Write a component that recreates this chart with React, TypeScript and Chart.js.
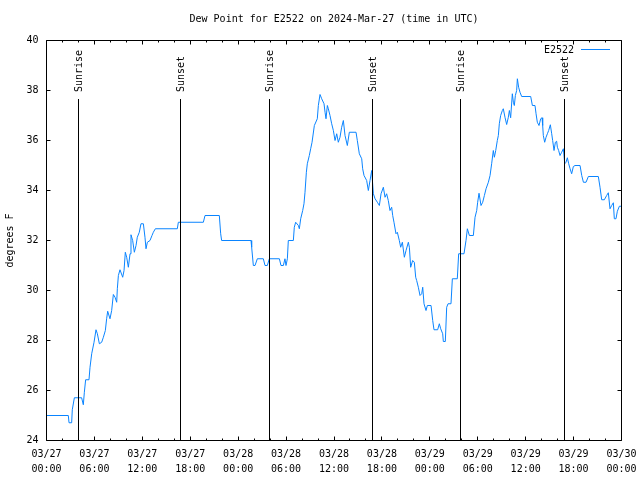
import React, { useEffect, useRef } from "react";
import { Chart, registerables } from "chart.js";

Chart.register(...registerables);

// ---- data (hours since 2024-03-27 00:00 UTC) ----
const hours: number[] = [
  0, 2.73, 2.82, 3.15, 3.23, 3.49, 4.4, 4.61, 4.74, 4.9, 5.32, 5.45, 5.66, 5.95, 6.2, 6.37, 6.62, 6.91, 7.12, 7.37,
  7.53, 7.66, 7.95, 8.16, 8.37, 8.58, 8.79, 8.87, 9.0, 9.2, 9.54, 9.71, 9.87, 10.04, 10.25, 10.46, 10.58, 10.79, 11.0, 11.21,
  11.37, 11.62, 11.83, 12.13, 12.33, 12.46, 12.63, 12.96, 13.21, 13.38, 13.63, 16.38, 16.51, 19.64, 19.85, 21.64, 21.81, 21.93, 25.61, 25.69,
  25.9, 26.11, 26.4, 27.15, 27.36, 27.65, 27.9, 29.16, 29.36, 29.66, 29.86, 29.99, 30.16, 30.28, 30.91, 31.03, 31.2, 31.54, 31.66, 31.83,
  32.08, 32.24, 32.37, 32.54, 32.66, 32.91, 33.08, 33.25, 33.54, 33.91, 34.04, 34.25, 34.46, 34.75, 34.88, 35.0, 35.17, 35.29, 35.5, 35.71,
  35.92, 36.13, 36.34, 36.54, 36.75, 36.96, 37.17, 37.38, 37.67, 37.92, 38.76, 38.92, 39.17, 39.47, 39.59, 39.76, 40.09, 40.3, 40.51, 40.72,
  40.93, 41.14, 41.43, 41.68, 41.89, 42.18, 42.39, 42.59, 42.8, 43.01, 43.22, 43.35, 43.51, 43.76, 43.93, 44.18, 44.35, 44.56, 44.81, 45.02,
  45.31, 45.44, 45.6, 45.85, 46.06, 46.23, 46.35, 46.56, 46.77, 46.98, 47.11, 47.27, 47.52, 47.69, 48.15, 48.36, 48.52, 48.98, 49.19, 49.36,
  49.61, 49.69, 49.94, 50.11, 50.28, 50.65, 50.82, 51.44, 51.61, 52.28, 52.53, 52.7, 52.95, 53.45, 53.66, 53.87, 53.99, 54.16, 54.41, 54.62,
  54.83, 55.04, 55.33, 55.54, 55.74, 55.95, 56.08, 56.25, 56.45, 56.58, 56.7, 56.87, 57.08, 57.2, 57.41, 57.62, 57.83, 57.96, 58.12, 58.33,
  58.46, 58.58, 58.71, 58.87, 58.96, 59.12, 59.29, 59.5, 60.63, 60.84, 61.17, 61.3, 61.46, 61.67, 61.88, 62.05, 62.13, 62.21, 62.38, 62.55,
  62.72, 62.88, 63.09, 63.26, 63.38, 63.55, 63.72, 63.88, 63.97, 64.13, 64.3, 64.51, 64.72, 64.89, 65.05, 65.22, 65.39, 65.56, 65.76, 65.97,
  66.18, 66.81, 67.02, 67.23, 67.56, 67.85, 69.1, 69.31, 69.52, 69.85, 70.14, 70.35, 70.56, 70.77, 70.98, 71.1, 71.31, 71.48, 71.73, 72.0,
];
const dewF: number[] = [
  25.0, 25.0, 24.71, 24.71, 25.23, 25.71, 25.71, 25.43, 25.93, 26.43, 26.43, 26.93, 27.47, 27.93, 28.43, 28.27, 27.87, 27.93, 28.13, 28.4,
  28.87, 29.17, 28.87, 29.2, 29.84, 29.73, 29.53, 30.07, 30.6, 30.83, 30.53, 30.8, 31.53, 31.33, 30.93, 31.47, 32.23, 32.0, 31.53, 31.8,
  32.13, 32.33, 32.67, 32.67, 32.13, 31.67, 31.93, 32.0, 32.2, 32.33, 32.47, 32.47, 32.73, 32.73, 33.0, 33.0, 32.27, 32.0, 32.0, 31.73,
  31.0, 31.0, 31.27, 31.27, 31.0, 31.0, 31.27, 31.27, 31.0, 31.0, 31.27, 31.0, 31.27, 32.0, 32.0, 32.53, 32.73, 32.6, 32.47, 32.87,
  33.2, 33.47, 33.93, 34.73, 35.07, 35.4, 35.67, 35.93, 36.6, 36.87, 37.4, 37.84, 37.67, 37.47, 37.13, 36.87, 37.4, 37.27, 37.0, 36.67,
  36.4, 36.0, 36.27, 35.93, 36.13, 36.53, 36.8, 36.2, 35.8, 36.33, 36.33, 36.0, 35.47, 35.27, 34.87, 34.6, 34.4, 34.0, 34.4, 34.8,
  33.87, 33.67, 33.53, 33.4, 33.87, 34.13, 33.73, 33.87, 33.6, 33.2, 33.33, 33.0, 32.73, 32.27, 32.33, 32.0, 31.73, 31.93, 31.33, 31.6,
  31.93, 31.73, 30.93, 31.2, 31.13, 30.53, 30.4, 30.13, 29.8, 29.87, 30.13, 29.47, 29.2, 29.4, 29.4, 28.8, 28.43, 28.43, 28.67, 28.47,
  28.27, 27.96, 27.96, 29.33, 29.47, 29.47, 30.47, 30.47, 31.47, 31.47, 32.0, 32.47, 32.2, 32.2, 32.93, 33.2, 33.53, 33.89, 33.4, 33.53,
  33.8, 34.07, 34.33, 34.6, 35.07, 35.6, 35.33, 35.6, 36.0, 36.2, 36.67, 37.0, 37.2, 37.27, 36.93, 36.64, 36.93, 37.2, 36.91, 37.87,
  37.53, 37.4, 37.8, 38.0, 38.47, 38.13, 37.93, 37.76, 37.76, 37.4, 37.4, 37.07, 36.73, 36.6, 36.87, 36.91, 36.6, 36.2, 35.93, 36.13,
  36.27, 36.4, 36.63, 36.27, 36.0, 35.6, 35.93, 35.97, 35.73, 35.6, 35.4, 35.53, 35.67, 35.07, 35.13, 35.31, 35.07, 34.87, 34.67, 34.96,
  35.0, 35.0, 34.6, 34.33, 34.33, 34.56, 34.56, 34.13, 33.63, 33.63, 33.8, 33.91, 33.27, 33.4, 33.51, 32.87, 32.87, 33.17, 33.37, 33.37,
];

const sunriseHours: number[] = [4.03, 27.93, 51.82];
const sunsetHours: number[] = [16.77, 40.8, 64.84];

const xTickHours: number[] = [0, 6, 12, 18, 24, 30, 36, 42, 48, 54, 60, 66, 72];
const xTickDates: string[] = ["03/27", "03/27", "03/27", "03/27", "03/28", "03/28", "03/28", "03/28", "03/29", "03/29", "03/29", "03/29", "03/30"];
const xTickTimes: string[] = ["00:00", "06:00", "12:00", "18:00", "00:00", "06:00", "12:00", "18:00", "00:00", "06:00", "12:00", "18:00", "00:00"];

const TITLE = "Dew Point for E2522 on 2024-Mar-27 (time in UTC)";
const SERIES = "E2522";
const Y_TITLE = "degrees F";

const FONT_FAMILY = '"DejaVu Sans Mono", "Liberation Mono", monospace';
const LINE_COLOR = "#0a84ff";

const framePlugin = {
  id: "gnuplotFrame",
  afterDatasetsDraw(chart: any) {
    const { ctx, chartArea } = chart;
    const xs = chart.scales.x;
    const ys = chart.scales.y;
    const { left, right, top, bottom } = chartArea;
    ctx.save();
    ctx.strokeStyle = "#000";
    ctx.lineWidth = 1;
    ctx.beginPath();
    ctx.rect(left, top, right - left, bottom - top);
    ctx.stroke();

    // x ticks (major every 6h, minor every 2h), inward, mirrored on top
    ctx.beginPath();
    for (let h = 0; h <= 72; h += 2) {
      const px = Math.floor(xs.getPixelForValue(h)) + 0.5;
      const len = h % 6 === 0 ? 4 : 2;
      ctx.moveTo(px, bottom);
      ctx.lineTo(px, bottom - len);
      ctx.moveTo(px, top);
      ctx.lineTo(px, top + len);
    }
    // y ticks every 2
    for (let v = 24; v <= 40; v += 2) {
      const py = Math.floor(ys.getPixelForValue(v)) + 0.5;
      ctx.moveTo(left, py);
      ctx.lineTo(left + 4, py);
      ctx.moveTo(right, py);
      ctx.lineTo(right - 4, py);
    }
    ctx.stroke();

    // sunrise / sunset markers
    const lineTop = 99;
    ctx.fillStyle = "#000";
    ctx.font = `10px ${FONT_FAMILY}`;
    const events: [number, string][] = [
      ...sunriseHours.map((h) => [h, "Sunrise"] as [number, string]),
      ...sunsetHours.map((h) => [h, "Sunset"] as [number, string]),
    ];
    for (const [h, label] of events) {
      const px = Math.floor(xs.getPixelForValue(h)) + 0.5;
      ctx.beginPath();
      ctx.moveTo(px, lineTop);
      ctx.lineTo(px, bottom);
      ctx.stroke();
      ctx.save();
      ctx.translate(px + 1, 92);
      ctx.rotate(-Math.PI / 2);
      ctx.textAlign = "left";
      ctx.textBaseline = "middle";
      ctx.fillText(label, 0, 0);
      ctx.restore();
    }

    // legend
    ctx.textAlign = "right";
    ctx.textBaseline = "middle";
    ctx.fillText(SERIES, 574, 50);
    ctx.strokeStyle = LINE_COLOR;
    ctx.beginPath();
    ctx.moveTo(581, 49.5);
    ctx.lineTo(610, 49.5);
    ctx.stroke();
    ctx.restore();
  },
};

export default function App() {
  const canvasRef = useRef<HTMLCanvasElement | null>(null);

  useEffect(() => {
    if (!canvasRef.current) return;
    const font = { family: FONT_FAMILY, size: 10 };
    const chart = new Chart(canvasRef.current, {
      type: "line",
      data: {
        datasets: [
          {
            label: SERIES,
            data: hours.map((h, i) => ({ x: h, y: dewF[i] })),
            borderColor: LINE_COLOR,
            borderWidth: 1,
            pointRadius: 0,
            tension: 0,
            fill: false,
          },
        ],
      },
      options: {
        animation: false,
        responsive: false,
        devicePixelRatio: 1,
        layout: { padding: { left: 0, right: 18.5, top: 0, bottom: 0 } },
        plugins: {
          legend: { display: false },
          tooltip: { enabled: false },
          title: {
            display: true,
            text: TITLE,
            fullSize: false,
            color: "#000",
            font: { ...font, weight: "normal", lineHeight: 1.2 },
            padding: { top: 13, bottom: 15.5 },
          },
        },
        scales: {
          x: {
            type: "linear",
            min: 0,
            max: 72,
            afterBuildTicks: (scale: any) => {
              scale.ticks = xTickHours.map((v) => ({ value: v }));
            },
            afterFit: (scale: any) => {
              scale.height = 39.5;
              scale.paddingLeft = 0;
              scale.paddingRight = 0;
            },
            ticks: {
              autoSkip: false,
              maxRotation: 0,
              minRotation: 0,
              color: "#000",
              font: { ...font, lineHeight: 1.5 },
              padding: 6,
              callback: (value: any) => {
                const i = xTickHours.indexOf(Number(value));
                return i >= 0 ? [xTickDates[i], xTickTimes[i]] : "";
              },
            },
            grid: { display: false, drawTicks: false },
            border: { display: false },
          },
          y: {
            type: "linear",
            min: 24,
            max: 40,
            afterFit: (scale: any) => {
              scale.width = 46.5;
              scale.paddingTop = 0;
              scale.paddingBottom = 0;
            },
            ticks: { stepSize: 2, color: "#000", font, padding: 8 },
            grid: { display: false, drawTicks: false },
            border: { display: false },
            title: {
              display: true,
              text: Y_TITLE,
              color: "#000",
              font: { ...font, lineHeight: 1.2 },
              padding: { top: 4, bottom: 0 },
            },
          },
        },
      },
      plugins: [framePlugin],
    } as any);
    return () => chart.destroy();
  }, []);

  return (
    <div style={{ position: "absolute", left: 0, top: 0, width: 640, height: 480, background: "#fff" }}>
      <canvas ref={canvasRef} width={640} height={480} />
    </div>
  );
}
